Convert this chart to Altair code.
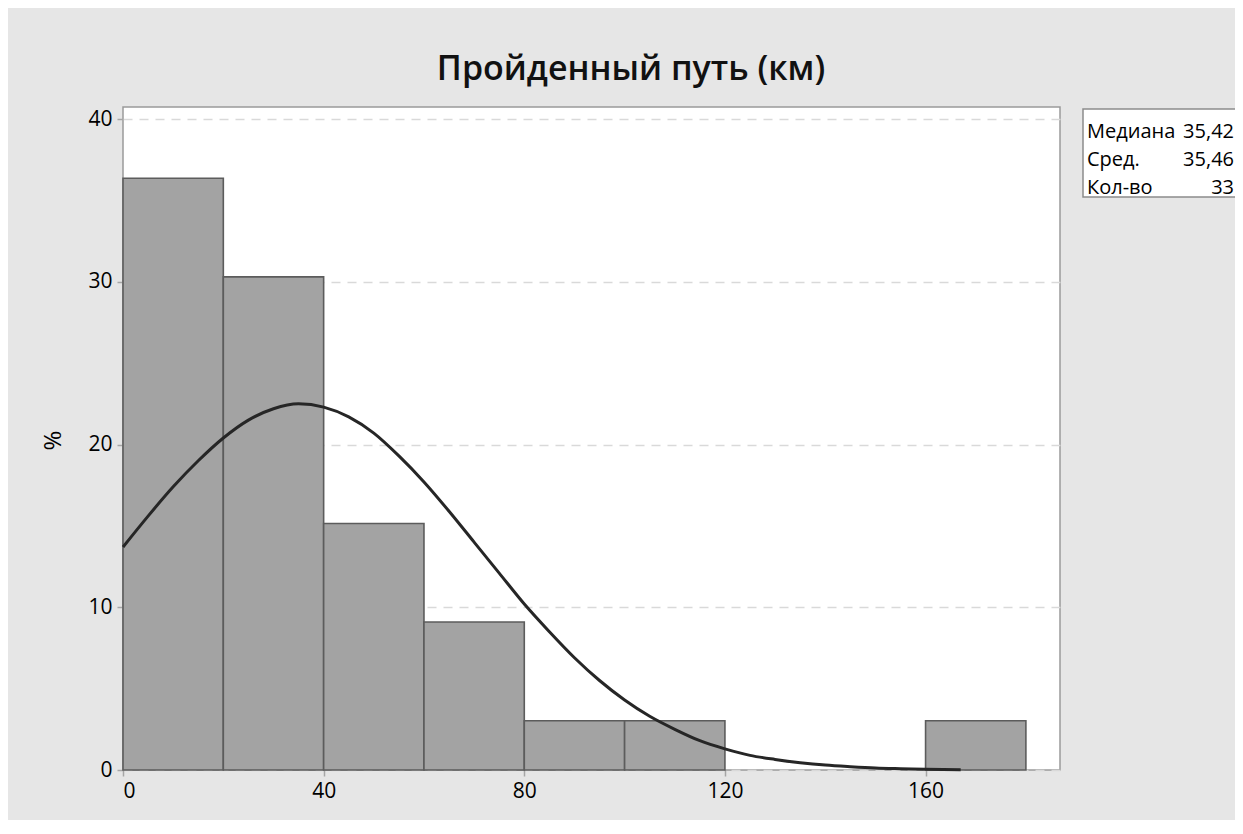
import altair as alt
import pandas as pd

# Histogram bins (km) and percentages
bin_start = [0, 20, 40, 60, 80, 100, 160]
bin_end = [20, 40, 60, 80, 100, 120, 180]
percent = [36.36, 30.30, 15.15, 9.09, 3.03, 3.03, 3.03]

# Fitted normal curve
curve_x = [0, 5, 10, 15, 20, 25, 30, 35, 40, 45, 50, 55, 60, 65, 70, 75, 80, 85,
           90, 95, 100, 105, 110, 115, 120, 125, 130, 135, 140, 145, 150, 155, 160, 167]
curve_y = [13.7, 15.6, 17.4, 19.0, 20.4, 21.5, 22.2, 22.5, 22.3, 21.7, 20.7, 19.3,
           17.7, 15.9, 14.0, 12.1, 10.2, 8.5, 6.9, 5.5, 4.3, 3.3, 2.5, 1.8, 1.3,
           0.9, 0.65, 0.45, 0.3, 0.2, 0.12, 0.08, 0.05, 0.02]

# Stats box
stat_labels = ["Медиана", "Сред.", "Кол-во"]
stat_values = ["35,42", "35,46", "33"]

x_ticks = [0, 40, 80, 120, 160]
y_ticks = [0, 10, 20, 30, 40]

title_text = "Пройденный путь (км)"

FONT = "Open Sans"
W, H = 937, 663

bars_df = pd.DataFrame({"start": bin_start, "end": bin_end, "pct": percent})
curve_df = pd.DataFrame({"x": curve_x, "y": curve_y})

xscale = alt.Scale(domain=[0, 186.8], nice=False, zero=False)
yscale = alt.Scale(domain=[0, 40.74], nice=False)

xaxis = alt.Axis(values=x_ticks, title=None, grid=False, domain=False,
                 tickColor="#a6a6a6", tickSize=6, tickWidth=1.5,
                 labelFont=FONT, labelFontSize=21, labelColor="#000000",
                 labelPadding=4)
yaxis = alt.Axis(values=y_ticks, title="%", grid=True, gridDash=[9, 7],
                 gridColor="#d9d9d9", gridWidth=1.5, domain=False,
                 tickColor="#a6a6a6", tickSize=6, tickWidth=1.5,
                 labelFont=FONT, labelFontSize=21, labelColor="#000000",
                 labelPadding=5,
                 titleFont=FONT, titleFontSize=24, titleFontWeight="normal",
                 titleColor="#000000", titleX=-70, titleY=333,
                 titleAngle=270, titleBaseline="middle", titleAlign="center")

bars = alt.Chart(bars_df).mark_rect(
    fill="#a3a3a3", stroke="#5c5c5c", strokeWidth=1.6
).encode(
    x=alt.X("start:Q", scale=xscale, axis=xaxis),
    x2="end:Q",
    y=alt.Y("pct:Q", scale=yscale, axis=yaxis),
    y2=alt.datum(0),
)

curve = alt.Chart(curve_df).mark_line(
    color="#262626", strokeWidth=3, interpolate="monotone"
).encode(
    x=alt.X("x:Q", scale=xscale),
    y=alt.Y("y:Q", scale=yscale),
)

title = alt.Chart(pd.DataFrame({"t": [title_text]})).mark_text(
    font=FONT, fontSize=34, fontWeight=600, color="#111111",
    align="center", baseline="alphabetic"
).encode(
    x=alt.value(508), y=alt.value(-27), text="t:N"
)

box = alt.Chart(pd.DataFrame({"a": [1]})).mark_rect(
    fill="white", stroke="#8c8c8c", strokeWidth=1.5
).encode(
    x=alt.value(960), x2=alt.value(1140), y=alt.value(2), y2=alt.value(90)
)

row_y = [25, 53, 81]
stat_layers = []
for lab, val, ry in zip(stat_labels, stat_values, row_y):
    d = pd.DataFrame({"label": [lab], "value": [val]})
    stat_layers.append(
        alt.Chart(d).mark_text(
            font=FONT, fontSize=20, color="#000000", align="left", baseline="middle"
        ).encode(x=alt.value(964), y=alt.value(ry), text="label:N")
    )
    stat_layers.append(
        alt.Chart(d).mark_text(
            font=FONT, fontSize=20, color="#000000", align="right", baseline="middle"
        ).encode(x=alt.value(1111), y=alt.value(ry), text="value:N")
    )

chart = alt.layer(bars, curve, title, box, *stat_layers).properties(
    width=W, height=H,
    background="#e6e6e6",
    padding={"left": 115, "top": 99, "right": 175, "bottom": 50},
    autosize=alt.AutoSizeParams(type="none"),
).configure_view(
    fill="white", stroke="#9a9a9a", strokeWidth=1.5
)

chart.save("out.html", embed_options={"renderer": "svg", "actions": False})
